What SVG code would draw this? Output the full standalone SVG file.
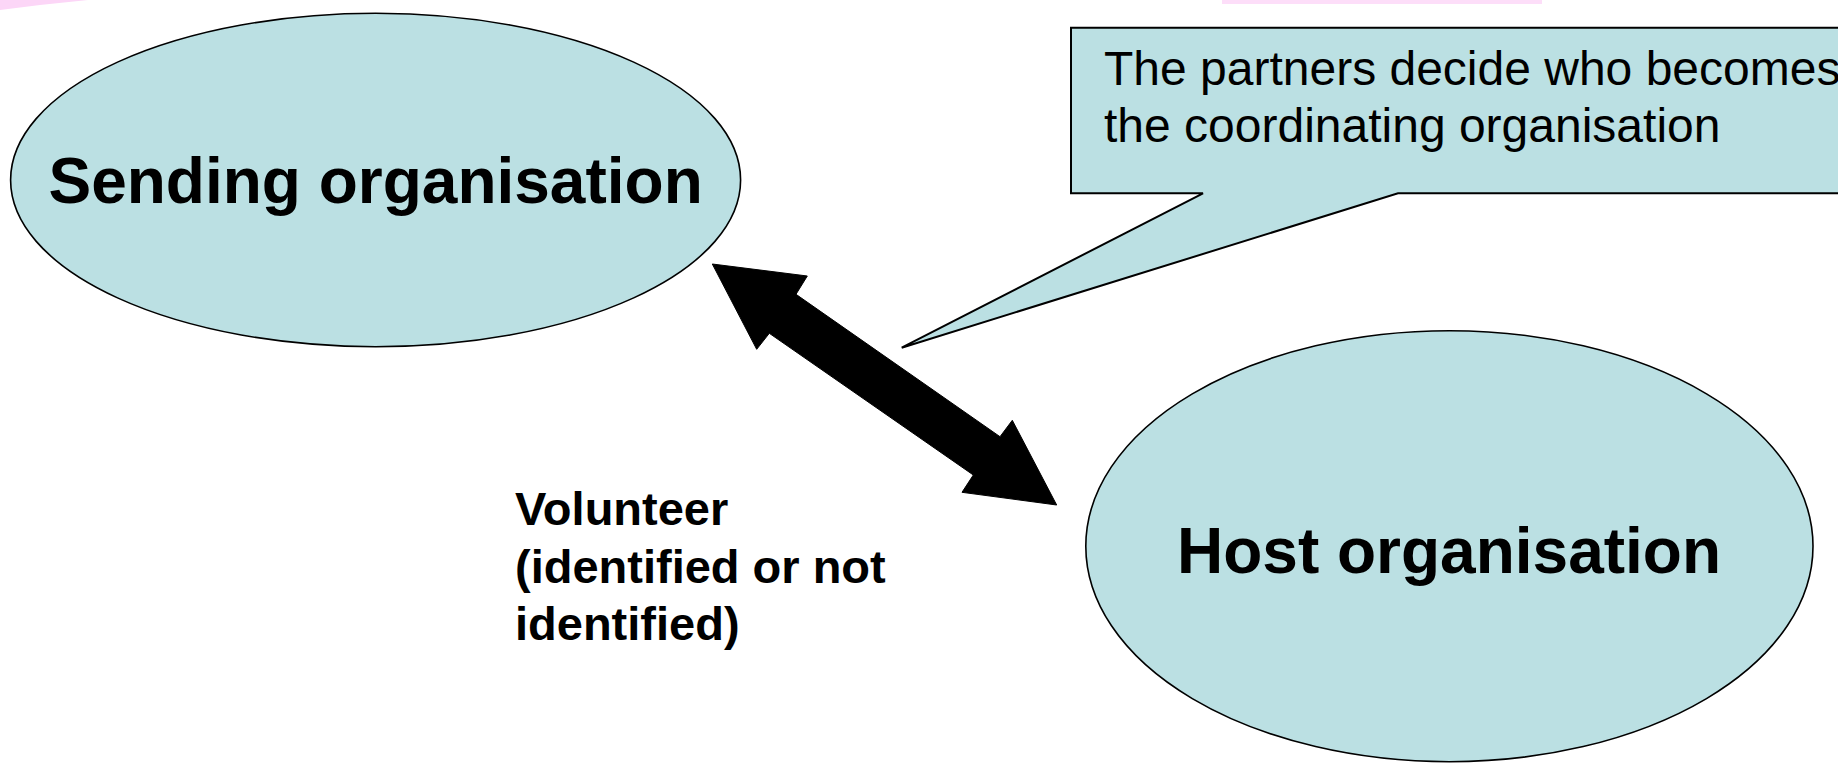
<svg xmlns="http://www.w3.org/2000/svg" width="1838" height="764" viewBox="0 0 1838 764">
<style>
.org{fill:#bbe0e3;stroke:#000;stroke-width:1.6}
.big{font-family:"Liberation Sans",Arial,sans-serif;font-weight:bold;font-size:64px;fill:#000}
.call{font-family:"Liberation Sans",Arial,sans-serif;font-size:48px;fill:#000}
.vol{font-family:"Liberation Sans",Arial,sans-serif;font-weight:bold;font-size:47px;fill:#000}
</style>
<rect width="1838" height="764" fill="#fff"/>
<g id="decor" fill="#fcd6f7">
<polygon points="0,0 88,0 40,5 0,10"/>
<rect x="1222" y="0" width="320" height="4" opacity="0.8"/>
</g>
<g id="sending">
<ellipse class="org" cx="375.6" cy="180" rx="365" ry="166.7"/>
<text class="big" x="375.6" y="203" text-anchor="middle">Sending organisation</text>
</g>
<g id="host">
<ellipse class="org" cx="1449.4" cy="546.2" rx="363.6" ry="215.5"/>
<text class="big" x="1449" y="573" text-anchor="middle">Host organisation</text>
</g>
<g id="callout">
<path d="M1071,27.7 H1850 V193.3 H1398 L901.7,347.7 L1203,193.3 H1071 Z" fill="#bbe0e3" stroke="#000" stroke-width="2"/>
<text class="call" x="1104" y="85">The partners decide who becomes</text>
<text class="call" x="1104" y="141.7">the coordinating organisation</text>
</g>
<g id="volunteer">
<text class="vol" x="515" y="525">Volunteer</text>
<text class="vol" x="515" y="582.6">(identified or not</text>
<text class="vol" x="515" y="640.2">identified)</text>
</g>
<g id="connectors">
<polygon points="712.3,264 807.3,276 796,294.3 1000,436.7 1012.3,420.3 1056.7,505 962,492.3 973.3,475 769.3,333.3 756.7,349.3" fill="#000" stroke="#000" stroke-width="1"/>
</g>
</svg>
